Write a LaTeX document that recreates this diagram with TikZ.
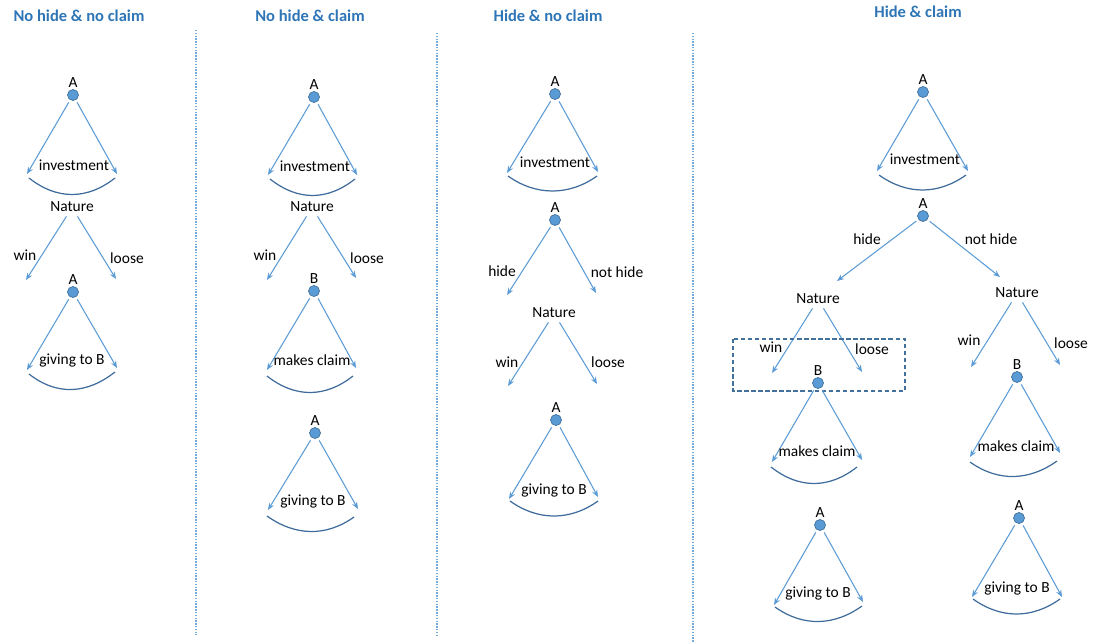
\documentclass[tikz,border=0pt]{standalone}
\usepackage{fontspec}
\setmainfont{Carlito}
\usepackage{xcolor}
\usepackage{tikz}
\usetikzlibrary{arrows.meta, positioning}

\definecolor{lineblue}{HTML}{5B9BD5}
\definecolor{dotedge}{HTML}{41719C}
\definecolor{arcblue}{HTML}{3F6C9C}
\definecolor{titleblue}{HTML}{2E75B6}

\begin{document}
\begin{tikzpicture}[
    x=0.02cm, y=-0.02cm,
    player/.style={circle, draw=dotedge, fill=lineblue, minimum size=0.22cm, inner sep=0pt, label distance=2.5pt},
    move/.style={-{Stealth[length=4pt, width=3.2pt]}, draw=lineblue, line width=0.6pt, shorten <=1.5pt},
    infoset/.style={draw=arcblue, line width=0.7pt},
    lbl/.style={font=\fontsize{8.8}{10}\selectfont, inner sep=1pt},
    title/.style={font=\fontsize{9.4}{11}\selectfont\bfseries, text=titleblue},
    sep/.style={draw=lineblue!85, line width=0.7pt, dash pattern=on 0.8pt off 0.8pt},
    infobox/.style={draw=dotedge, line width=0.7pt, dash pattern=on 2.5pt off 1.5pt}
]
\useasboundingbox (0,0) rectangle (1097,643);

% Separators
\draw[sep] (196,30) -- (196,635);
\draw[sep] (437,33) -- (437,635);
\draw[sep] (693,33) -- (693,643);

% No hide & no claim
\node[title] (t1) at (79,16) {No hide \& no claim};
\node[player, label={[lbl]above:A}] (a1) at (73,95) {};
\coordinate (a1l) at (27,174); \coordinate (a1r) at (117,174);
\draw[move] (a1) -- (a1l);
\draw[move] (a1) -- (a1r);
\node[lbl] (inv1) at (74,165) {investment};
\draw[infoset] ([shift={(2,4)}]a1l) .. controls +(28,22) and +(-28,22) .. ([shift={(-2,4)}]a1r);

\node[lbl] (n1) at (72,207) {Nature};
\coordinate (n1l) at (26,280); \coordinate (n1r) at (116,279);
\draw[move] (n1.240) -- (n1l);
\draw[move] (n1.300) -- (n1r);
\node[lbl] (w1) at (25,255) {win};
\node[lbl] (l1) at (127,258) {loose};

\node[player, label={[lbl]above:A}] (g1) at (73,292) {};
\coordinate (g1l) at (27,370); \coordinate (g1r) at (117,368);
\draw[move] (g1) -- (g1l);
\draw[move] (g1) -- (g1r);
\node[lbl] (gb1) at (72,360) {giving to B};
\draw[infoset] ([shift={(2,4)}]g1l) .. controls +(28,22) and +(-28,22) .. ([shift={(-2,4)}]g1r);

% No hide & claim
\node[title] (t2) at (310,16) {No hide \& claim};
\node[player, label={[lbl]above:A}] (a2) at (314,97) {};
\coordinate (a2l) at (268,175); \coordinate (a2r) at (357,175);
\draw[move] (a2) -- (a2l);
\draw[move] (a2) -- (a2r);
\node[lbl] (inv2) at (315,166) {investment};
\draw[infoset] ([shift={(2,4)}]a2l) .. controls +(28,22) and +(-28,22) .. ([shift={(-2,4)}]a2r);

\node[lbl] (n2) at (312,207) {Nature};
\coordinate (n2l) at (267,280); \coordinate (n2r) at (356,278);
\draw[move] (n2.240) -- (n2l);
\draw[move] (n2.300) -- (n2r);
\node[lbl] (w2) at (265,255) {win};
\node[lbl] (l2) at (367,258) {loose};

\node[player, label={[lbl]above:B}] (b2) at (314,291) {};
\coordinate (b2l) at (267,370); \coordinate (b2r) at (356,368);
\draw[move] (b2) -- (b2l);
\draw[move] (b2) -- (b2r);
\node[lbl] (mc2) at (312,360) {makes claim};
\draw[infoset] ([shift={(0,6)}]b2l) .. controls +(28,22) and +(-28,22) .. ([shift={(-3,8)}]b2r);

\node[player, label={[lbl]above:A}] (g2) at (315,433) {};
\coordinate (g2l) at (268,510); \coordinate (g2r) at (358,509);
\draw[move] (g2) -- (g2l);
\draw[move] (g2) -- (g2r);
\node[lbl] (gb2) at (313,501) {giving to B};
\draw[infoset] ([shift={(-1,6)}]g2l) .. controls +(28,20) and +(-28,20) .. ([shift={(-4,8)}]g2r);

% Hide & no claim
\node[title] (t3) at (548,16) {Hide \& no claim};
\node[player, label={[lbl]above:A}] (a3) at (555,94) {};
\coordinate (a3l) at (507,173); \coordinate (a3r) at (598,172);
\draw[move] (a3) -- (a3l);
\draw[move] (a3) -- (a3r);
\node[lbl] (inv3) at (555,162) {investment};
\draw[infoset] ([shift={(1,3)}]a3l) .. controls +(28,20) and +(-28,20) .. ([shift={(-1,4)}]a3r);

\node[player, label={[lbl]above:A}] (h3) at (555,220) {};
\coordinate (h3l) at (507,295); \coordinate (h3r) at (596,293);
\draw[move] (h3) -- (h3l);
\draw[move] (h3) -- (h3r);
\node[lbl] (hd3) at (502,271) {hide};
\node[lbl] (nh3) at (617,272) {not hide};

\node[lbl] (n3) at (554,313) {Nature};
\coordinate (n3l) at (508,386); \coordinate (n3r) at (597,384);
\draw[move] (n3.240) -- (n3l);
\draw[move] (n3.300) -- (n3r);
\node[lbl] (w3) at (507,362) {win};
\node[lbl] (l3) at (608,362) {loose};

\node[player, label={[lbl]above:A}] (g3) at (556,420) {};
\coordinate (g3l) at (509,499); \coordinate (g3r) at (598,497);
\draw[move] (g3) -- (g3l);
\draw[move] (g3) -- (g3r);
\node[lbl] (gb3) at (554,490) {giving to B};
\draw[infoset] ([shift={(1,2)}]g3l) .. controls +(28,20) and +(-28,20) .. ([shift={(0,4)}]g3r);

% Hide & claim
\node[title] (t4) at (918,12) {Hide \& claim};
\node[player, label={[lbl]above:A}] (a4) at (923,92) {};
\coordinate (a4l) at (877,171); \coordinate (a4r) at (968,171);
\draw[move] (a4) -- (a4l);
\draw[move] (a4) -- (a4r);
\node[lbl] (inv4) at (925,159) {investment};
\draw[infoset] ([shift={(2,4)}]a4l) .. controls +(28,20) and +(-28,20) .. ([shift={(-2,4)}]a4r);

\node[player, label={[lbl]above:A}] (h4) at (923,216) {};
\coordinate (h4l) at (837,281); \coordinate (h4r) at (1000,277);
\draw[move] (h4) -- (h4l);
\draw[move] (h4) -- (h4r);
\node[lbl] (hd4) at (867,239) {hide};
\node[lbl] (nh4) at (991,239) {not hide};

% hide branch
\node[lbl] (nl4) at (818,299) {Nature};
\coordinate (nl4l) at (772,373); \coordinate (nl4r) at (862,372);
\draw[move] (nl4.240) -- (nl4l);
\draw[move] (nl4.300) -- (nl4r);
\node[lbl] (wl4) at (771,347) {win};
\node[lbl] (ll4) at (872,349) {loose};
\draw[infobox] (733,339) rectangle (905,391);

\node[player, label={[lbl]above:B}] (bl4) at (818,383) {};
\coordinate (bl4l) at (772,462); \coordinate (bl4r) at (862,460);
\draw[move] (bl4) -- (bl4l);
\draw[move] (bl4) -- (bl4r);
\node[lbl] (mcl4) at (817,451) {makes claim};
\draw[infoset] ([shift={(-1,5)}]bl4l) .. controls +(28,22) and +(-28,22) .. ([shift={(-5,7)}]bl4r);

\node[player, label={[lbl]above:A}] (gl4) at (820,525) {};
\coordinate (gl4l) at (774,605); \coordinate (gl4r) at (863,602);
\draw[move] (gl4) -- (gl4l);
\draw[move] (gl4) -- (gl4r);
\node[lbl] (gbl4) at (818,593) {giving to B};
\draw[infoset] ([shift={(1,2)}]gl4l) .. controls +(28,20) and +(-28,20) .. ([shift={(-1,4)}]gl4r);

% not hide branch
\node[lbl] (nr4) at (1017,293) {Nature};
\coordinate (nr4l) at (971,367); \coordinate (nr4r) at (1060,365);
\draw[move] (nr4.240) -- (nr4l);
\draw[move] (nr4.300) -- (nr4r);
\node[lbl] (wr4) at (969,340) {win};
\node[lbl] (lr4) at (1071,343) {loose};

\node[player, label={[lbl]above:B}] (br4) at (1017,377) {};
\coordinate (br4l) at (970,457); \coordinate (br4r) at (1060,453);
\draw[move] (br4) -- (br4l);
\draw[move] (br4) -- (br4r);
\node[lbl] (mcr4) at (1016,446) {makes claim};
\draw[infoset] ([shift={(0,5)}]br4l) .. controls +(28,20) and +(-28,20) .. ([shift={(-3,8)}]br4r);

\node[player, label={[lbl]above:A}] (gr4) at (1019,518) {};
\coordinate (gr4l) at (972,597); \coordinate (gr4r) at (1062,597);
\draw[move] (gr4) -- (gr4l);
\draw[move] (gr4) -- (gr4r);
\node[lbl] (gbr4) at (1017,588) {giving to B};
\draw[infoset] ([shift={(1,2)}]gr4l) .. controls +(28,20) and +(-28,20) .. ([shift={(-2,2)}]gr4r);

\end{tikzpicture}
\end{document}
